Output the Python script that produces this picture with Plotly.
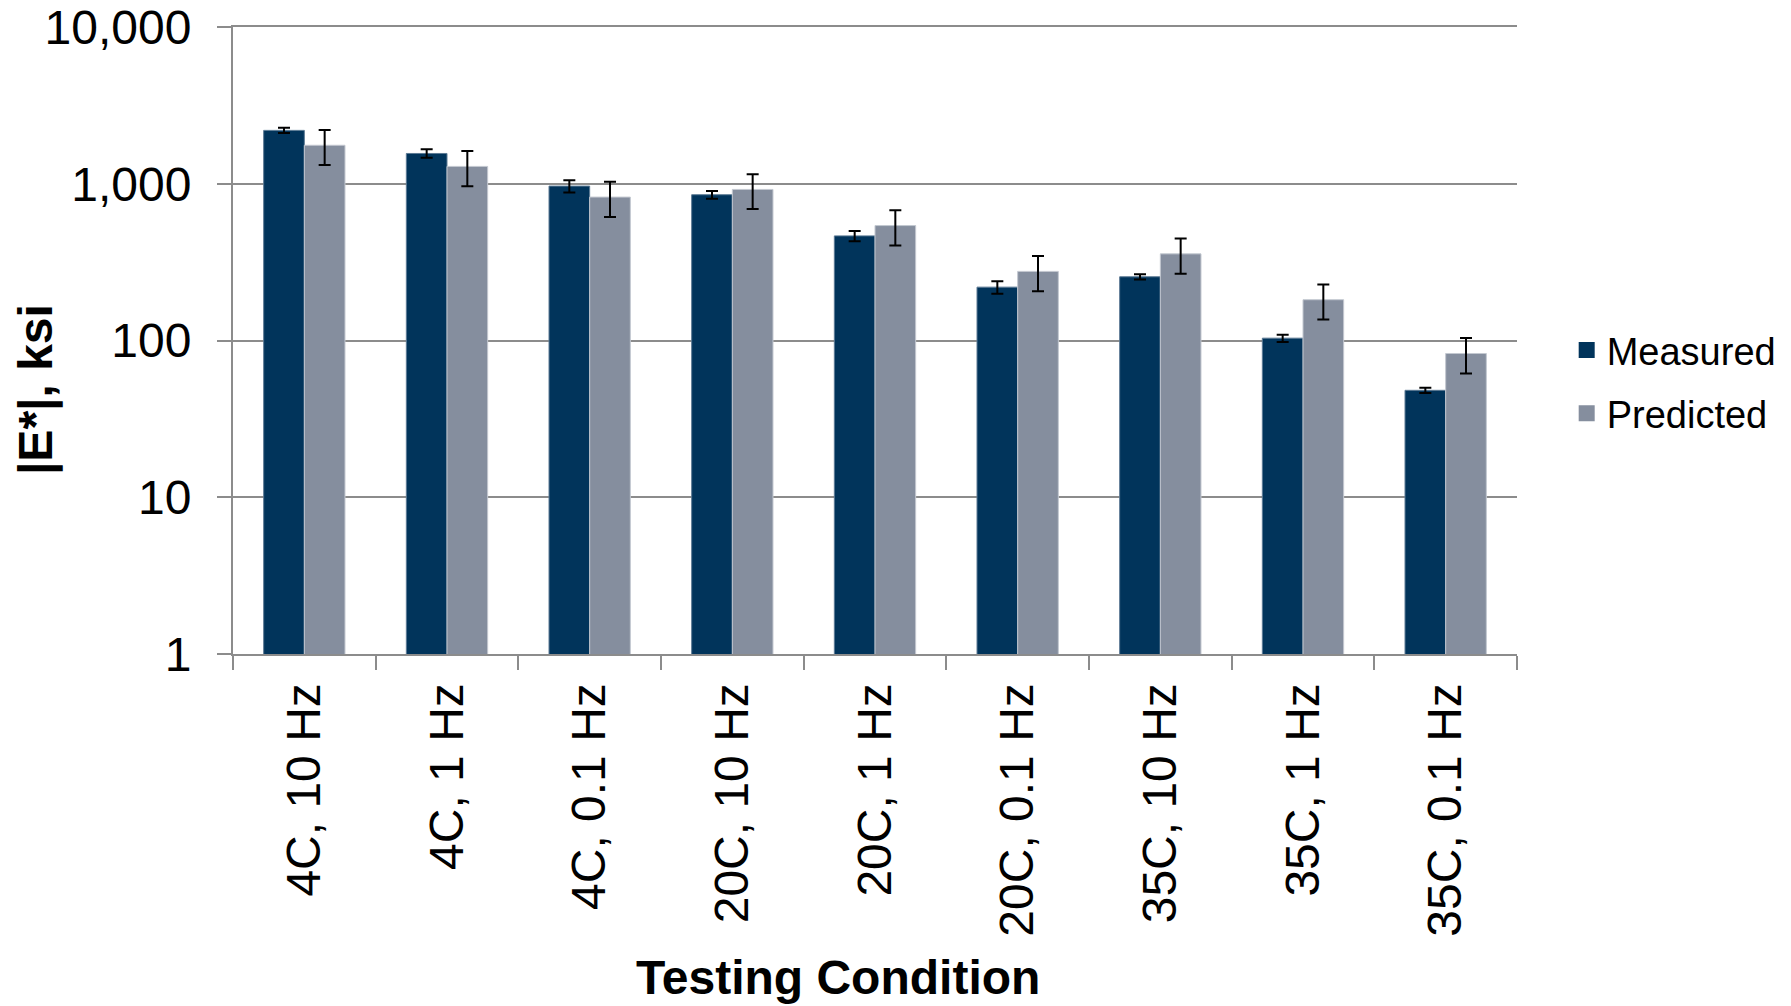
import plotly.graph_objects as go

# Dynamic modulus |E*| by testing condition
categories = ["4C, 10 Hz", "4C, 1 Hz", "4C, 0.1 Hz",
              "20C, 10 Hz", "20C, 1 Hz", "20C, 0.1 Hz",
              "35C, 10 Hz", "35C, 1 Hz", "35C, 0.1 Hz"]
measured = [2190, 1560, 966, 851, 465, 219, 255, 103.5, 48.1]
measured_err = [85, 97, 85, 48, 35, 20, 10, 5.5, 1.9]
predicted = [1760, 1290, 822, 920, 541, 276, 357, 182, 82.6]
predicted_err = [445, 326, 209, 230, 137, 70, 90, 46, 21]

y_tickvals = [1, 10, 100, 1000, 10000]
y_ticktext = ["1", "10", "100", "1,000", "10,000"]

C_MEAS = "#01345B"
C_PRED = "#858E9E"
GRID = "#8C8C8C"
FONT = "Liberation Sans, Arial, sans-serif"

fig = go.Figure()

err_style = dict(type="data", symmetric=True, color="black", thickness=2, width=6)

fig.add_trace(go.Bar(
    x=categories, y=measured, name="Measured",
    marker=dict(color=C_MEAS, line=dict(color="#5C7A94", width=1)),
    error_y=dict(array=measured_err, **err_style),
    showlegend=False,
))
fig.add_trace(go.Bar(
    x=categories, y=predicted, name="Predicted",
    marker=dict(color=C_PRED, line=dict(color="#C3C8D0", width=1)),
    error_y=dict(array=predicted_err, **err_style),
    showlegend=False,
))

# legend entries with larger square swatches
for nm, col in [("Measured", C_MEAS), ("Predicted", C_PRED)]:
    fig.add_trace(go.Scatter(
        x=[None], y=[None], mode="markers", name=nm, legendgroup=nm,
        marker=dict(symbol="square", size=18, color=col),
    ))

fig.update_layout(
    width=1791, height=1006,
    margin=dict(l=233, r=274, t=27, b=352, autoexpand=False),
    paper_bgcolor="white", plot_bgcolor="white",
    barmode="group", bargap=0.43, bargroupgap=0,
    font=dict(family=FONT, color="black", size=48),
    legend=dict(
        x=1.0387, xanchor="left", y=0.5347, yanchor="top",
        font=dict(size=38, family=FONT),
        traceorder="grouped", tracegroupgap=11,
        itemsizing="trace", bgcolor="rgba(0,0,0,0)",
    ),
    xaxis=dict(
        type="category", tickangle=-90, tickson="boundaries",
        ticks="outside", ticklen=14, tickwidth=2, tickcolor=GRID,
        showline=True, linecolor=GRID, linewidth=2, mirror=True,
        showgrid=False, tickfont=dict(size=48),
        ticklabelstandoff=8, automargin=False,
    ),
    yaxis=dict(
        type="log", range=[0, 4],
        tickvals=y_tickvals, ticktext=y_ticktext,
        ticks="outside", ticklen=14, tickwidth=2, tickcolor=GRID,
        showline=True, linecolor=GRID, linewidth=2,
        showgrid=True, gridcolor=GRID, gridwidth=2,
        zeroline=False, tickfont=dict(size=48),
        ticklabelstandoff=16, automargin=False,
    ),
    annotations=[
        dict(text="<b>|E*|, ksi</b>", xref="paper", yref="paper",
             x=-0.1534, y=0.421, xanchor="center", yanchor="middle",
             textangle=-90, showarrow=False, font=dict(size=48)),
        dict(text="<b>Testing Condition</b>", xref="paper", yref="paper",
             x=0.4708, y=-0.5155, xanchor="center", yanchor="middle",
             showarrow=False, font=dict(size=48)),
    ],
)

fig.write_html("out.html")
